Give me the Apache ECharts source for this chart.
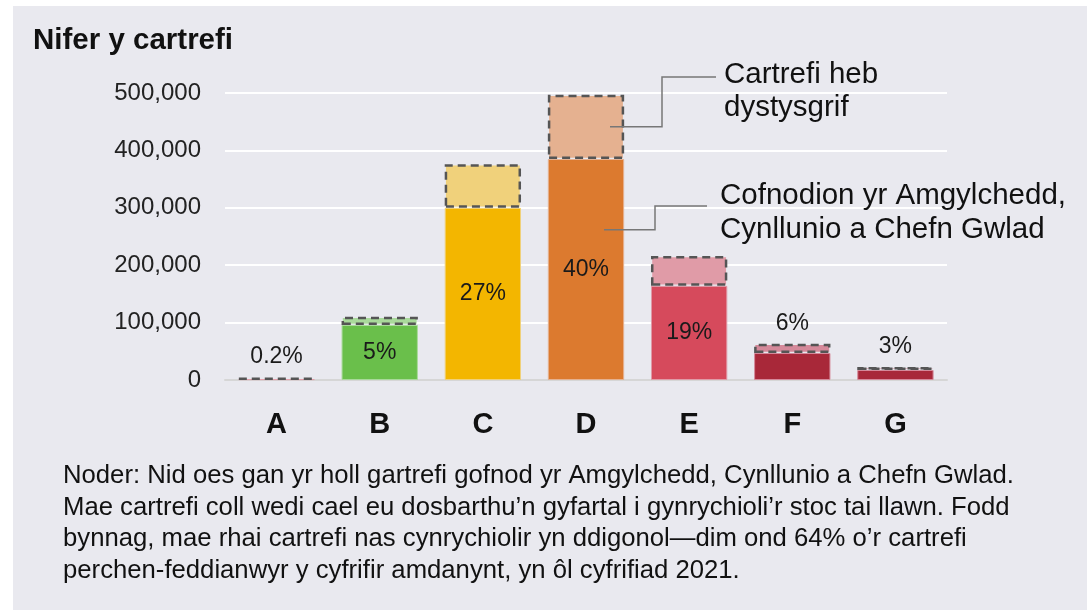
<!DOCTYPE html>
<html>
<head>
<meta charset="utf-8">
<script src="https://cdn.jsdelivr.net/npm/echarts@6/dist/echarts.min.js"></script>
<style>
  html, body { margin: 0; padding: 0; background: #fff; }
  #chart { width: 1087px; height: 610px; }
</style>
</head>
<body>
<div id="chart"></div>
<script>
// bandiau EPC
const categories = ["A", "B", "C", "D", "E", "F", "G"];
// cartrefi gyda chofnod
const recorded = [1500, 96000, 300000, 385000, 164000, 47000, 17500];
// cartrefi heb dystysgrif (ar ben y cofnodion)
const unrecorded = [1500, 14000, 76000, 112000, 52000, 16000, 5000];
const shareLabels = ["0.2%", "5%", "27%", "40%", "19%", "6%", "3%"];
const yTicks = [0, 100000, 200000, 300000, 400000, 500000];

const solidColors = ["#d5495c", "#6abf4b", "#f3b600", "#dc7a2f", "#d64a5c", "#a82839", "#a82839"];
const lightColors = ["#e4a0ab", "#a9d99b", "#f0d17b", "#e5b190", "#e09ba7", "#d5899a", "#d5899a"];
const labelAbove = [true, false, false, false, false, true, true];

const FONT = "Liberation Sans";
const chart = echarts.init(document.getElementById("chart"));

const options = {
  backgroundColor: "#ffffff",
  animation: false,
  textStyle: { fontFamily: FONT },
  title: {
    text: "Nifer y cartrefi",
    left: 28,
    top: 21,
    textStyle: { fontSize: 29.5, fontWeight: "bold", color: "#111", fontFamily: FONT },
  },
  grid: { left: 225, right: 140, top: 93, bottom: 230 },
  xAxis: {
    type: "category",
    data: categories,
    axisTick: { show: false },
    axisLine: { lineStyle: { color: "#d6d6d6", width: 2 } },
    axisLabel: { fontSize: 29, fontWeight: "bold", color: "#111", margin: 30, fontFamily: FONT },
  },
  yAxis: {
    type: "value",
    min: yTicks[0],
    max: yTicks[yTicks.length - 1],
    interval: 100000,
    axisLine: { show: false },
    axisTick: { show: false },
    splitLine: { lineStyle: { color: "#ffffff", width: 2 } },
    axisLabel: {
      fontSize: 24,
      color: "#222",
      margin: 24,
      fontFamily: FONT,
      formatter: (v) => v.toLocaleString("en-GB"),
    },
  },
  series: [
    {
      name: "Cofnodion",
      type: "bar",
      stack: "total",
      barWidth: "74%",
      data: recorded.map((v, i) => ({
        value: v,
        itemStyle: { color: solidColors[i], borderColor: lightColors[i], borderWidth: 1 },
        label: {
          show: !labelAbove[i],
          position: "inside",
          formatter: shareLabels[i],
          fontSize: 23,
          color: "#1a1a1a",
          fontFamily: FONT,
        },
      })),
      z: 2,
    },
    {
      name: "Heb dystysgrif",
      type: "bar",
      stack: "total",
      barWidth: "74%",
      data: unrecorded.map((v, i) => ({
        value: v,
        itemStyle: {
          color: lightColors[i],
          borderColor: "#555555",
          borderWidth: 2.5,
          borderType: [8, 5],
        },
        label: {
          show: labelAbove[i],
          position: "top",
          distance: 9,
          formatter: shareLabels[i],
          fontSize: 23,
          color: "#1a1a1a",
          fontFamily: FONT,
        },
      })),
      z: 3,
    },
  ],
};
chart.setOption(options);

// leader lines and annotation text, anchored on bar D
const dIdx = 3;
const topAnchor = chart.convertToPixel({ gridIndex: 0 }, [dIdx, recorded[dIdx] + unrecorded[dIdx] / 2]);
const lowAnchor = chart.convertToPixel({ gridIndex: 0 }, [dIdx, recorded[dIdx] * 0.68]);

chart.setOption({
  graphic: [
    {
      type: "rect",
      left: 13,
      top: 6,
      z: -10,
      silent: true,
      shape: { width: 1087 - 13, height: 610 - 6 },
      style: { fill: "#e9e9ef" },
    },
    {
      type: "polyline",
      z: 10,
      shape: {
        points: [
          [topAnchor[0] + 24, topAnchor[1]],
          [662, topAnchor[1]],
          [662, 77],
          [716, 77],
        ],
      },
      style: { stroke: "#777", lineWidth: 1.5, fill: null },
    },
    {
      type: "polyline",
      z: 10,
      shape: {
        points: [
          [lowAnchor[0] + 18, lowAnchor[1]],
          [655, lowAnchor[1]],
          [655, 206],
          [707, 206],
        ],
      },
      style: { stroke: "#777", lineWidth: 1.5, fill: null },
    },
    {
      type: "text",
      left: 724,
      top: 58,
      z: 10,
      style: {
        text: "Cartrefi heb\ndystysgrif",
        font: "29.5px " + FONT,
        lineHeight: 33,
        fill: "#111",
      },
    },
    {
      type: "text",
      left: 720,
      top: 179,
      z: 10,
      style: {
        text: "Cofnodion yr Amgylchedd,\nCynllunio a Chefn Gwlad",
        font: "29.5px " + FONT,
        lineHeight: 34,
        fill: "#111",
      },
    },
    {
      type: "text",
      left: 63,
      top: 460,
      z: 10,
      style: {
        text:
          "Noder: Nid oes gan yr holl gartrefi gofnod yr Amgylchedd, Cynllunio a Chefn Gwlad.\n" +
          "Mae cartrefi coll wedi cael eu dosbarthu\u2019n gyfartal i gynrychioli\u2019r stoc tai llawn. Fodd\n" +
          "bynnag, mae rhai cartrefi nas cynrychiolir yn ddigonol\u2014dim ond 64% o\u2019r cartrefi\n" +
          "perchen-feddianwyr y cyfrifir amdanynt, yn \u00f4l cyfrifiad 2021.",
        font: "25.7px " + FONT,
        lineHeight: 31.7,
        fill: "#111",
      },
    },
  ],
});
</script>
</body>
</html>
